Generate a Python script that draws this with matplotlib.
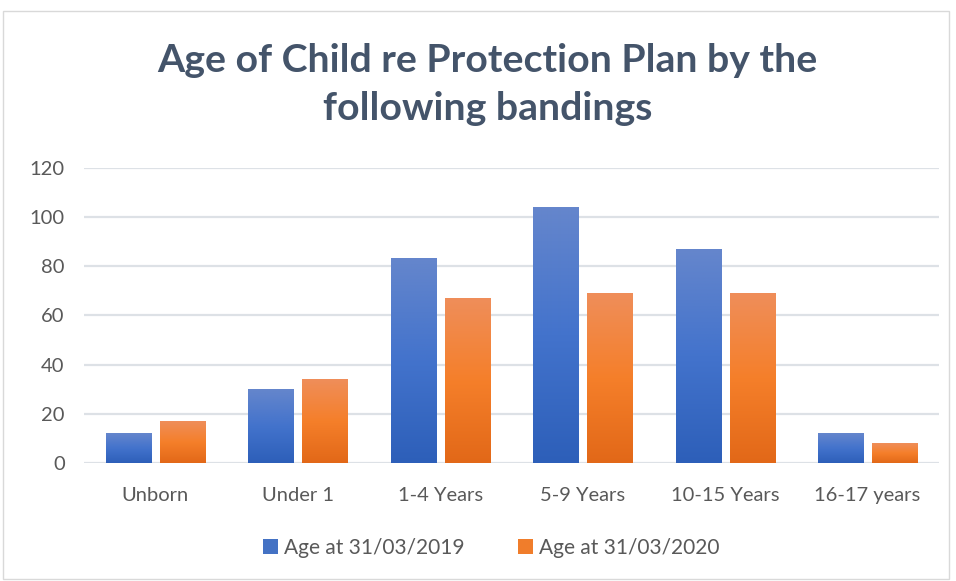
import numpy as np
import matplotlib
matplotlib.use('Agg')
import matplotlib.pyplot as plt
from matplotlib.colors import LinearSegmentedColormap
from matplotlib.patches import Rectangle, Patch

categories = ['Unborn', 'Under 1', '1-4 Years', '5-9 Years', '10-15 Years', '16-17 years']
age_2019 = [12, 30, 83, 104, 87, 12]
age_2020 = [17, 34, 67, 69, 69, 8]
labels = ['Age at 31/03/2019', 'Age at 31/03/2020']

plt.rcParams['font.family'] = ['Lato', 'DejaVu Sans']

blue_cmap = LinearSegmentedColormap.from_list('b', ['#2D5FB9', '#4373CC', '#6586CC'])
orange_cmap = LinearSegmentedColormap.from_list('o', ['#E26818', '#F57F2A', '#EF8E5A'])

fig = plt.figure(figsize=(9.56, 5.81), dpi=100)
ax = fig.add_axes([0.088, 0.203, 0.894, 0.508])

x = np.arange(len(categories))
w = 0.316
off = 0.19

grad = np.linspace(0, 1, 256).reshape(-1, 1)

def gradient_bars(xs, vals, cmap, label):
    bars = ax.bar(xs, vals, w, color='none', label=label, zorder=3)
    for b in bars:
        x0, y0 = b.get_x(), b.get_y()
        ax.imshow(grad, cmap=cmap, origin='lower', aspect='auto',
                  extent=[x0, x0 + b.get_width(), y0, y0 + b.get_height()],
                  zorder=3)
    return bars

gradient_bars(x - off, age_2019, blue_cmap, labels[0])
gradient_bars(x + off, age_2020, orange_cmap, labels[1])

ax.set_xlim(-0.5, len(categories) - 0.5)
ax.set_ylim(0, 120)
ax.set_yticks(range(0, 121, 20))
ax.set_xticks(x)
ax.set_xticklabels(categories)
ax.yaxis.grid(True, color='#DDE1E6', linewidth=1.6, zorder=0)
ax.set_axisbelow(True)
for s in ax.spines.values():
    s.set_visible(False)
ax.tick_params(axis='both', length=0, labelsize=14.5, labelcolor='#595959')
ax.tick_params(axis='x', pad=17)
ax.tick_params(axis='y', pad=14)

fig.text(0.510, 0.855, 'Age of Child re Protection Plan by the\nfollowing bandings',
         ha='center', va='center', fontsize=28.3, fontweight='bold',
         color='#44546A', linespacing=1.45)

handles = [Patch(facecolor='#4472C4'), Patch(facecolor='#F07D2B')]
fig.legend(handles, labels, loc='center', bbox_to_anchor=(0.514, 0.057), ncol=2,
           frameon=False, fontsize=15, labelcolor='#595959',
           handlelength=0.7, handleheight=0.7, handletextpad=0.3, columnspacing=2.6)

fig.add_artist(Rectangle((0.003, 0.003), 0.99, 0.978, transform=fig.transFigure,
                         fill=False, edgecolor='#D9D9D9', linewidth=1))

fig.savefig('out.png', dpi=100)
